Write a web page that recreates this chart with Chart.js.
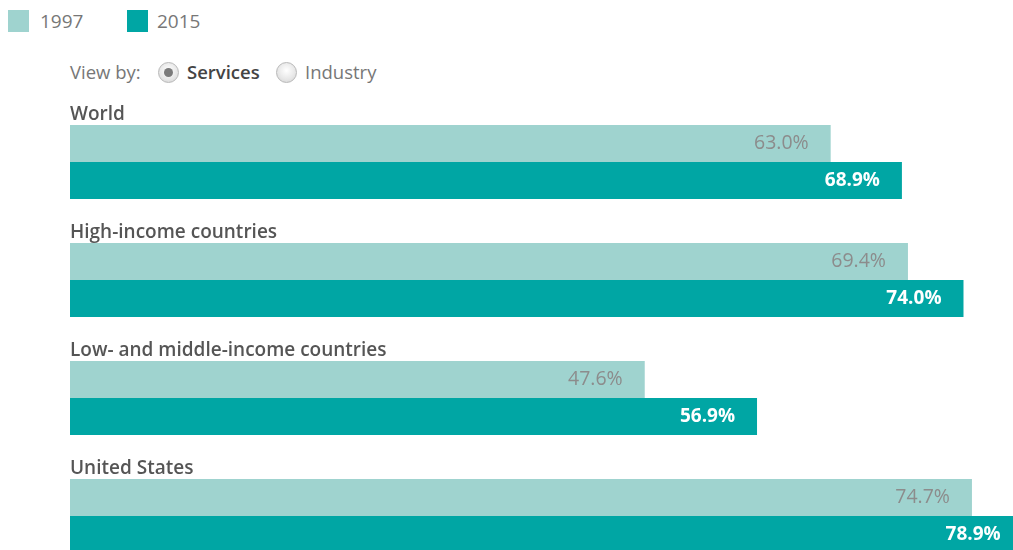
<!DOCTYPE html>
<html lang="en">
<head>
    <meta charset="UTF-8">
    <title>Employment in services, 1997 vs 2015</title>
    <script src="https://cdn.jsdelivr.net/npm/chart.js"></script>
    <style>
        body {
            margin: 0;
            width: 1013px;
            height: 550px;
            overflow: hidden;
            background: #ffffff;
            font-family: 'Open Sans', sans-serif;
            position: relative;
        }
        .swatch {
            position: absolute;
            top: 10px;
            width: 21px;
            height: 22px;
        }
        .legend-text {
            position: absolute;
            top: 8px;
            font-size: 19px;
            line-height: 26px;
            color: #777;
        }
        .viewby {
            position: absolute;
            top: 60px;
            font-size: 18.5px;
            line-height: 24px;
            color: #777;
        }
        .radio {
            position: absolute;
            top: 62px;
            width: 19px;
            height: 19px;
            border-radius: 50%;
            border: 1px solid #b8b8b8;
            background: radial-gradient(circle at 50% 40%, #ffffff 0%, #e6e6e6 60%, #cfcfcf 100%);
        }
        .radio.on::after {
            content: '';
            position: absolute;
            left: 5px;
            top: 5px;
            width: 9px;
            height: 9px;
            border-radius: 50%;
            background: #7a7a7a;
        }
        .chart-wrap {
            position: absolute;
            left: 0;
            top: 100px;
            width: 1013px;
            height: 480px;
        }
    </style>
</head>
<body>

    <div class="swatch" style="left:8px; background:#9fd3cf;"></div>
    <div class="legend-text" style="left:40px;">1997</div>
    <div class="swatch" style="left:127px; background:#00a6a4;"></div>
    <div class="legend-text" style="left:157px;">2015</div>

    <div class="viewby" style="left:70px;">View by:</div>
    <div class="radio on" style="left:158px;"></div>
    <div class="viewby" style="left:187px; color:#444; font-weight:600;">Services</div>
    <div class="radio" style="left:276px;"></div>
    <div class="viewby" style="left:305px;">Industry</div>

    <div class="chart-wrap">
        <canvas id="servicesChart"></canvas>
    </div>

    <script>
        const categories = ['World', 'High-income countries', 'Low- and middle-income countries', 'United States'];
        const values1997 = [63.0, 69.4, 47.6, 74.7];
        const values2015 = [68.9, 74.0, 56.9, 78.9];

        // labels above each group and values inside each bar end
        const barLabels = {
            id: 'barLabels',
            afterDatasetsDraw(chart) {
                const ctx = chart.ctx;
                ctx.save();
                const first = chart.getDatasetMeta(0).data;
                ctx.font = '600 19px "Open Sans"';
                ctx.fillStyle = '#555';
                ctx.textAlign = 'left';
                ctx.textBaseline = 'alphabetic';
                first.forEach((bar, i) => {
                    ctx.fillText(categories[i], chart.chartArea.left, bar.y - bar.height / 2 - 5);
                });

                chart.data.datasets.forEach((ds, d) => {
                    const meta = chart.getDatasetMeta(d);
                    ctx.font = d === 0 ? '19.5px "Open Sans"' : 'bold 19px "Open Sans"';
                    ctx.fillStyle = d === 0 ? '#8c8c8c' : '#ffffff';
                    ctx.textAlign = 'right';
                    ctx.textBaseline = 'middle';
                    meta.data.forEach((bar, i) => {
                        ctx.fillText(ds.data[i].toFixed(1) + '%', bar.x - 22, bar.y);
                    });
                });
                ctx.restore();
            }
        };

        new Chart(document.getElementById('servicesChart'), {
            type: 'bar',
            data: {
                labels: categories,
                datasets: [
                    {
                        label: '1997',
                        data: values1997,
                        backgroundColor: '#9fd3cf',
                        categoryPercentage: 0.627,
                        barPercentage: 1.0
                    },
                    {
                        label: '2015',
                        data: values2015,
                        backgroundColor: '#00a6a4',
                        categoryPercentage: 0.627,
                        barPercentage: 1.0
                    }
                ]
            },
            options: {
                indexAxis: 'y',
                responsive: true,
                maintainAspectRatio: false,
                animation: false,
                layout: {
                    padding: { left: 70, right: 0, top: 3, bottom: 5 }
                },
                scales: {
                    x: { min: 0, max: 78.1, display: false },
                    y: { display: false }
                },
                plugins: {
                    legend: { display: false },
                    tooltip: { enabled: false }
                }
            },
            plugins: [barLabels]
        });
    </script>

</body>
</html>
